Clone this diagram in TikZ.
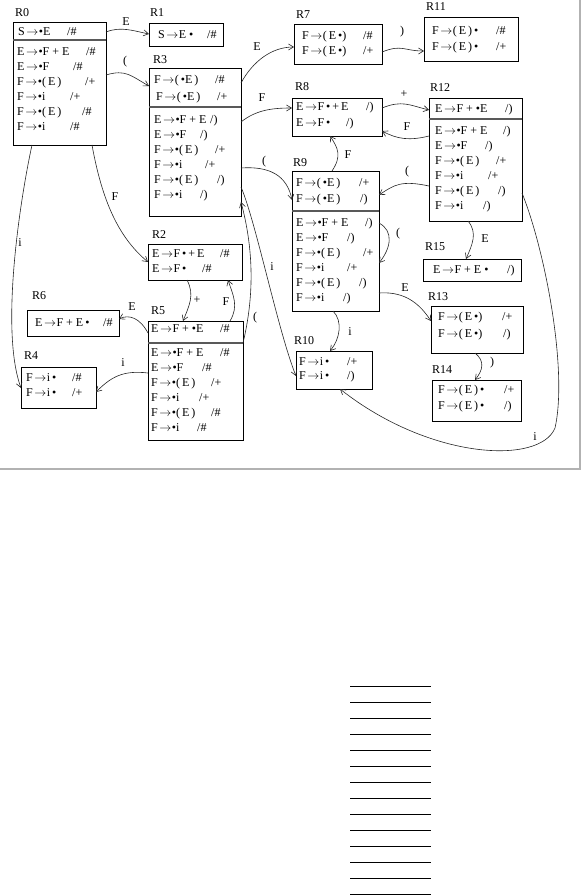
\documentclass[tikz,border=0pt]{standalone}
\usepackage{fontspec}
\setmainfont{Liberation Serif}
\usetikzlibrary{arrows.meta}
\newcommand\arw{\kern1.5pt$\rightarrow$\kern0.5pt}
\newcommand\itm[6]{\node[itm] (#1) at (#2,#3) {\hbox to \dimexpr#4pt-#2pt\relax{#5\hfil}#6};}
\tikzset{
  stbox/.style={draw=black, line width=0.9pt, inner sep=0pt, outer sep=0pt, anchor=north west},
  itm/.style={anchor=west, inner sep=0pt, text height=7.5pt, text depth=0pt, font=\fontsize{12}{14}\selectfont},
  stlab/.style={anchor=west, inner sep=0pt, text height=7.5pt, text depth=0pt, font=\fontsize{12}{14}\selectfont},
  elab/.style={inner sep=0pt, font=\fontsize{12}{14}\selectfont},
  arr/.style={draw=black!85, line width=0.6pt, -{Straight Barb[length=5pt,width=6pt]}},
  divider/.style={draw=black!65, line width=1.3pt},
}
\begin{document}
\begin{tikzpicture}[x=1pt,y=-1pt]
\useasboundingbox (0,0) rectangle (582,896);
% frame
\draw[black!30, line width=1.5pt] (0,469) -- (580,469) -- (580,0);
% state boxes
\node[stbox, minimum width=93pt, minimum height=123pt] (R0) at (13,22) {};
\node[stbox, minimum width=74pt, minimum height=23pt] (R1) at (149,23) {};
\node[stbox, minimum width=92pt, minimum height=148pt] (R3) at (149,68) {};
\node[stbox, minimum width=88pt, minimum height=40pt] (R7) at (294,24) {};
\node[stbox, minimum width=94pt, minimum height=44pt] (R11) at (424,17) {};
\node[stbox, minimum width=90pt, minimum height=38pt] (R8) at (292,98) {};
\node[stbox, minimum width=93pt, minimum height=123pt] (R12) at (429,98) {};
\node[stbox, minimum width=87pt, minimum height=140pt] (R9) at (292,171) {};
\node[stbox, minimum width=98pt, minimum height=22pt] (R15) at (423,259) {};
\node[stbox, minimum width=92pt, minimum height=47pt] (R13) at (431,306) {};
\node[stbox, minimum width=89pt, minimum height=41pt] (R14) at (432,380) {};
\node[stbox, minimum width=76pt, minimum height=38pt] (R10) at (296,351) {};
\node[stbox, minimum width=94pt, minimum height=36pt] (R2) at (148,244) {};
\node[stbox, minimum width=92pt, minimum height=26pt] (R6) at (27,310) {};
\node[stbox, minimum width=95pt, minimum height=119pt] (R5) at (148,321) {};
\node[stbox, minimum width=75pt, minimum height=41pt] (R4) at (21,367) {};
% dividers
\draw[divider] (R0.west |- 0,40) -- (R0.east |- 0,40);
\draw[divider] (R3.west |- 0,107) -- (R3.east |- 0,107);
\draw[divider] (R12.west |- 0,119) -- (R12.east |- 0,119);
\draw[divider] (R9.west |- 0,211) -- (R9.east |- 0,211);
\draw[divider] (R5.west |- 0,343) -- (R5.east |- 0,343);
% state labels
\node[stlab] (L0) at (15,13) {R0};
\node[stlab] (L1) at (150,13) {R1};
\node[stlab] (L3) at (153,60) {R3};
\node[stlab] (L7) at (296,15) {R7};
\node[stlab] (L11) at (426,7) {R11};
\node[stlab] (L8) at (295,87) {R8};
\node[stlab] (L12) at (430,88) {R12};
\node[stlab] (L9) at (293,163) {R9};
\node[stlab] (L15) at (425,247) {R15};
\node[stlab] (L13) at (428,297) {R13};
\node[stlab] (L14) at (432,370) {R14};
\node[stlab] (L10) at (294,341) {R10};
\node[stlab] (L2) at (152,235) {R2};
\node[stlab] (L6) at (32,296) {R6};
\node[stlab] (L5) at (151,311) {R5};
\node[stlab] (L4) at (24,356) {R4};
% items R0
\itm{r0a}{18}{32}{67}{S\arw•E}{/\#}
\itm{r0b}{17}{52}{86}{E\arw•F + E}{/\#}
\itm{r0c}{17}{67}{73}{E\arw•F}{/\#}
\itm{r0d}{17}{82}{85}{F\arw•(\,E\,)}{/+}
\itm{r0e}{17}{97}{70}{F\arw•i}{/+}
\itm{r0f}{17}{112}{82}{F\arw•(\,E\,)}{/\#}
\itm{r0g}{17}{127}{70}{F\arw•i}{/\#}
% R1
\itm{r1a}{158}{35}{207}{S\arw E •}{/\#}
% R3
\itm{r3a}{154}{80}{215}{F\arw(\,•E\,)}{/\#}
\itm{r3b}{156}{97}{217}{F\arw(\,•E\,)}{/+}
\itm{r3c}{154}{120}{210}{E\arw•F + E}{/)}
\itm{r3d}{154}{135}{200}{E\arw•F}{/)}
\itm{r3e}{154}{150}{215}{F\arw•(\,E\,)}{/+}
\itm{r3f}{154}{165}{205}{F\arw•i}{/+}
\itm{r3g}{154}{180}{217}{F\arw•(\,E\,)}{/)}
\itm{r3h}{154}{195}{200}{F\arw•i}{/)}
% R7
\itm{r7a}{302}{36}{363}{F\arw(\,E\,•)}{/\#}
\itm{r7b}{302}{51}{363}{F\arw(\,E\,•)}{/+}
% R11
\itm{r11a}{432}{31}{496}{F\arw(\,E\,)\,•}{/\#}
\itm{r11b}{432}{47}{496}{F\arw(\,E\,)\,•}{/+}
% R8
\itm{r8a}{296}{107}{366}{E\arw F\,•\,+\,E}{/)}
\itm{r8b}{296}{123}{346}{E\arw F\,•}{/)}
% R12
\itm{r12a}{435}{109}{505}{E\arw F + •E}{/)}
\itm{r12b}{435}{131}{503}{E\arw•F + E}{/)}
\itm{r12c}{435}{146}{485}{E\arw•F}{/)}
\itm{r12d}{435}{161}{496}{F\arw•(\,E\,)}{/+}
\itm{r12e}{435}{176}{488}{F\arw•i}{/+}
\itm{r12f}{435}{191}{498}{F\arw•(\,E\,)}{/)}
\itm{r12g}{435}{206}{483}{F\arw•i}{/)}
% R9
\itm{r9a}{296}{183}{359}{F\arw(\,•E\,)}{/+}
\itm{r9b}{296}{199}{360}{F\arw(\,•E\,)}{/)}
\itm{r9c}{296}{223}{365}{E\arw•F + E}{/)}
\itm{r9d}{296}{238}{347}{E\arw•F}{/)}
\itm{r9e}{296}{253}{363}{F\arw•(\,E\,)}{/+}
\itm{r9f}{296}{268}{347}{F\arw•i}{/+}
\itm{r9g}{296}{283}{359}{F\arw•(\,E\,)}{/)}
\itm{r9h}{296}{298}{343}{F\arw•i}{/)}
% R15
\itm{r15a}{433}{270}{507}{E\arw F + E •}{/)}
% R13
\itm{r13a}{438}{317}{502}{F\arw(\,E\,•)}{/+}
\itm{r13b}{438}{334}{503}{F\arw(\,E\,•)}{/)}
% R14
\itm{r14a}{438}{390}{504}{F\arw(\,E\,)\,•}{/+}
\itm{r14b}{438}{406}{504}{F\arw(\,E\,)\,•}{/)}
% R10
\itm{r10a}{299}{362}{347}{F\arw i\,•}{/+}
\itm{r10b}{299}{376}{347}{F\arw i\,•}{/)}
% R2
\itm{r2a}{152}{254}{220}{E\arw F\,•\,+\,E}{/\#}
\itm{r2b}{152}{269}{202}{E\arw F\,•}{/\#}
% R6
\itm{r6a}{35}{323}{103}{E\arw F + E\,•}{/\#}
% R5
\itm{r5a}{151}{329}{220}{E\arw F + •E}{/\#}
\itm{r5b}{151}{353}{220}{E\arw•F + E}{/\#}
\itm{r5c}{151}{368}{202}{E\arw•F}{/\#}
\itm{r5d}{151}{383}{211}{F\arw•(\,E\,)}{/+}
\itm{r5e}{151}{398}{199}{F\arw•i}{/+}
\itm{r5f}{151}{413}{211}{F\arw•(\,E\,)}{/\#}
\itm{r5g}{151}{428}{197}{F\arw•i}{/\#}
% R4
\itm{r4a}{26}{378}{72}{F\arw i\,•}{/\#}
\itm{r4b}{26}{393}{72}{F\arw i\,•}{/+}
% connectors
\draw[arr] (R0.east |- 0,32) .. controls +(15,-6) and +(-15,-3) .. (R1.west |- 0,34);
\node[elab] (e1) at (126,22) {E};
\draw[arr] (R0.east |- 0,75) .. controls +(20,-6) and +(-18,-10) .. (R3.west |- 0,86);
\node[elab] (e2) at (125,62) {(};
\draw[arr] (R3.east |- 0,83) .. controls +(12,-22) and +(-22,0) .. (R7.west |- 0,47);
\node[elab] (e3) at (257,47) {E};
\draw[arr] (R3.east |- 0,122) .. controls +(15,-12) and +(-20,0) .. (R8.west |- 0,108);
\node[elab] (e4) at (262,98) {F};
\draw[arr] (R3.east |- 0,168) .. controls +(28,-2) and +(-5,-25) .. (R9.west |- 0,200);
\node[elab] (e5) at (264,162) {(};
\draw[arr] (R7.east |- 0,52) .. controls +(20,-8) and +(-20,0) .. (R11.west |- 0,51);
\node[elab] (e6) at (402,32) {)};
\draw[arr] (R8.east |- 0,108) .. controls +(20,-8) and +(-20,-5) .. (R12.west |- 0,110);
\node[elab] (e7) at (404,94) {+};
\draw[arr] (R12.west |- 0,136) .. controls +(-20,5) and +(15,8) .. (R8.east |- 0,131);
\node[elab] (e8) at (407,127) {F};
\draw[arr] (R9.north -| 332,0) .. controls +(10,-15) and +(8,12) .. (R8.south -| 330,0);
\node[elab] (e9) at (348,155) {F};
\draw[arr] (R12.west |- 0,186) .. controls +(-28,-6) and +(15,-10) .. (R9.east |- 0,195);
\node[elab] (e10) at (407,172) {(};
\draw[arr] (R9.east |- 0,223) .. controls +(15,8) and +(12,-15) .. (R9.east |- 0,263);
\node[elab] (e11) at (398,234) {(};
\draw[arr] (R12.south -| 468,0) .. controls +(10,12) and +(6,-14) .. (R15.north -| 466,0);
\node[elab] (e12) at (485,239) {E};
\draw[arr] (R9.east |- 0,293) .. controls +(28,-2) and +(-10,-15) .. (R13.west |- 0,321);
\node[elab] (e13) at (405,288) {E};
\draw[arr] (R9.south -| 333,0) .. controls +(10,10) and +(10,-12) .. (R10.north -| 330,0);
\node[elab] (e14) at (350,332) {i};
\draw[arr] (R13.south -| 475,0) .. controls +(10,8) and +(8,-10) .. (R14.north -| 475,0);
\node[elab] (e15) at (492,363) {)};
\draw[arr] (R12.east |- 0,193) .. controls (545,250) and (568,370) .. (555,428) .. controls (540,465) and (430,460) .. (R10.south -| 340,0);
\node[elab] (e16) at (535,437) {i};
\draw[arr] (R3.east |- 0,187) .. controls +(15,35) and +(-18,-45) .. (R10.west |- 0,376);
\node[elab] (e17) at (272,267) {i};
\draw[arr] (R5.east |- 0,343) .. controls +(12,-50) and +(12,45) .. (R3.east |- 0,202);
\node[elab] (e18) at (255,318) {(};
\draw[arr] (R2.south -| 187,0) .. controls +(8,15) and +(6,-15) .. (R5.north -| 183,0);
\node[elab] (e19) at (197,300) {+};
\draw[arr] (R5.north -| 230,0) .. controls +(9,-15) and +(5,15) .. (R2.south -| 228,0);
\node[elab] (e20) at (226,302) {F};
\draw[arr] (R5.west |- 0,333) .. controls +(-8,-15) and +(10,-5) .. (R6.east |- 0,319);
\node[elab] (e21) at (132,307) {E};
\draw[arr] (R5.west |- 0,373) .. controls +(-25,-3) and +(15,-15) .. (R4.east |- 0,392);
\node[elab] (e22) at (123,363) {i};
\draw[arr] (R0.south -| 32,0) .. controls +(-12,55) and +(-21,-58) .. (R4.west |- 0,388);
\node[elab] (e23) at (20,243) {i};
\draw[arr] (R0.south -| 92,0) .. controls +(10,55) and +(-30,-25) .. (R2.west |- 0,262);
\node[elab] (e24) at (115,197) {F};
% ruled lines below
\foreach \k in {0,...,13} \draw[line width=0.9pt] (350,{686+16*\k}) -- (431,{686+16*\k});
\end{tikzpicture}
\end{document}
